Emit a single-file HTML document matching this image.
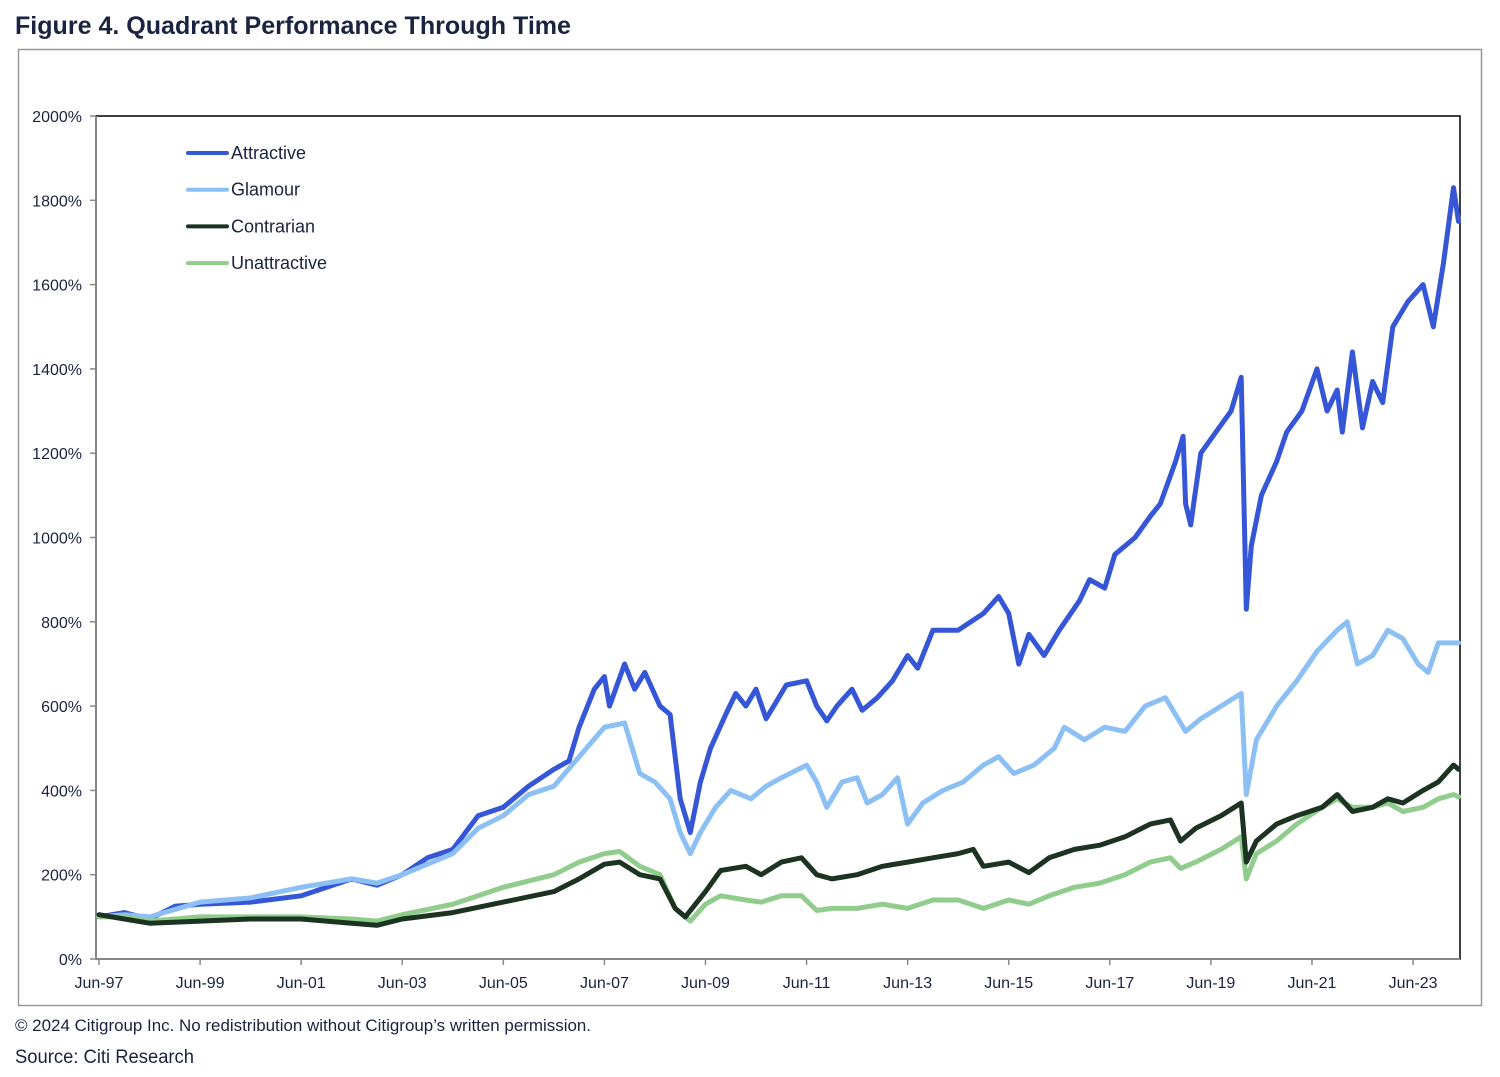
<!DOCTYPE html>
<html><head><meta charset="utf-8"><style>
body{margin:0;background:#fff;width:1500px;height:1072px;overflow:hidden;font-family:"Liberation Sans",sans-serif}
</style></head><body>
<svg id="chart" width="1500" height="1072" xmlns="http://www.w3.org/2000/svg" font-family="Liberation Sans, sans-serif">
<text x="15" y="34" font-size="25" font-weight="bold" fill="#1a2340" textLength="556" lengthAdjust="spacingAndGlyphs">Figure 4. Quadrant Performance Through Time</text>
<rect x="18.5" y="49.5" width="1463" height="956" fill="none" stroke="#999" stroke-width="1.5"/>
<g id="axes"></g>
<g id="series"></g>
<g id="legend"></g>
<text x="15" y="1031" font-size="17" fill="#1a2340" textLength="576" lengthAdjust="spacingAndGlyphs">© 2024 Citigroup Inc. No redistribution without Citigroup’s written permission.</text>
<text x="15" y="1063" font-size="19" fill="#1a2340" textLength="179" lengthAdjust="spacingAndGlyphs">Source: Citi Research</text>
</svg>
<script>
const yTicks=[0,200,400,600,800,1000,1200,1400,1600,1800,2000];
const xTickLabels=["Jun-97","Jun-99","Jun-01","Jun-03","Jun-05","Jun-07","Jun-09","Jun-11","Jun-13","Jun-15","Jun-17","Jun-19","Jun-21","Jun-23"];
const xTickYears=[1997.5,1999.5,2001.5,2003.5,2005.5,2007.5,2009.5,2011.5,2013.5,2015.5,2017.5,2019.5,2021.5,2023.5];
const seriesNames=["Attractive","Glamour","Contrarian","Unattractive"];
const attractiveT=[1997.5,1998.0,1998.5,1999.0,1999.5,2000.5,2001.5,2002.5,2003.0,2003.5,2004.0,2004.5,2005.0,2005.5,2006.0,2006.5,2006.8,2007.0,2007.3,2007.5,2007.6,2007.9,2008.1,2008.3,2008.6,2008.8,2009.0,2009.1,2009.2,2009.4,2009.6,2009.9,2010.1,2010.3,2010.5,2010.7,2010.9,2011.1,2011.5,2011.7,2011.9,2012.1,2012.4,2012.6,2012.9,2013.2,2013.5,2013.7,2014.0,2014.5,2015.0,2015.3,2015.5,2015.7,2015.9,2016.2,2016.5,2016.9,2017.1,2017.4,2017.6,2018.0,2018.3,2018.5,2018.8,2018.95,2019.0,2019.1,2019.3,2019.6,2019.9,2020.1,2020.2,2020.3,2020.5,2020.8,2021.0,2021.3,2021.6,2021.8,2022.0,2022.1,2022.3,2022.5,2022.7,2022.9,2023.1,2023.4,2023.7,2023.9,2024.1,2024.3,2024.4];
const attractiveV=[100,110,95,125,130,135,150,190,175,200,240,260,340,360,410,450,470,550,640,670,600,700,640,680,600,580,380,340,300,420,500,580,630,600,640,570,610,650,660,600,565,600,640,590,620,660,720,690,780,780,820,860,820,700,770,720,780,850,900,880,960,1000,1050,1080,1180,1240,1080,1030,1200,1250,1300,1380,830,980,1100,1180,1250,1300,1400,1300,1350,1250,1440,1260,1370,1320,1500,1560,1600,1500,1650,1830,1750];
const glamourT=[1997.5,1998.0,1998.5,1999.5,2000.5,2001.5,2002.5,2003.0,2003.5,2004.5,2005.0,2005.5,2006.0,2006.5,2007.0,2007.5,2007.9,2008.2,2008.5,2008.8,2009.0,2009.2,2009.4,2009.7,2010.0,2010.4,2010.7,2011.0,2011.5,2011.7,2011.9,2012.2,2012.5,2012.7,2013.0,2013.3,2013.5,2013.8,2014.2,2014.6,2015.0,2015.3,2015.6,2016.0,2016.4,2016.6,2017.0,2017.4,2017.8,2018.2,2018.6,2018.9,2019.0,2019.3,2019.7,2020.1,2020.2,2020.4,2020.8,2021.2,2021.6,2022.0,2022.2,2022.4,2022.7,2023.0,2023.3,2023.6,2023.8,2024.0,2024.4];
const glamourV=[100,105,100,135,145,170,190,180,200,250,310,340,390,410,480,550,560,440,420,380,300,250,300,360,400,380,410,430,460,420,360,420,430,370,390,430,320,370,400,420,460,480,440,460,500,550,520,550,540,600,620,560,540,570,600,630,390,520,600,660,730,780,800,700,720,780,760,700,680,750,750];
const contrarianT=[1997.5,1998.0,1998.5,1999.5,2000.5,2001.5,2002.5,2003.0,2003.5,2004.5,2005.5,2006.5,2007.0,2007.5,2007.8,2008.2,2008.6,2008.9,2009.1,2009.5,2009.8,2010.3,2010.6,2011.0,2011.4,2011.7,2012.0,2012.5,2013.0,2013.5,2014.0,2014.5,2014.8,2015.0,2015.5,2015.9,2016.3,2016.8,2017.3,2017.8,2018.3,2018.7,2018.9,2019.2,2019.7,2020.1,2020.2,2020.4,2020.8,2021.2,2021.7,2022.0,2022.3,2022.7,2023.0,2023.3,2023.7,2024.0,2024.3,2024.4];
const contrarianV=[105,95,85,90,95,95,85,80,95,110,135,160,190,225,230,200,190,120,100,160,210,220,200,230,240,200,190,200,220,230,240,250,260,220,230,205,240,260,270,290,320,330,280,310,340,370,230,280,320,340,360,390,350,360,380,370,400,420,460,450];
const unattractiveT=[1997.5,1998.0,1998.5,1999.5,2000.5,2001.5,2002.5,2003.0,2003.5,2004.5,2005.5,2006.5,2007.0,2007.5,2007.8,2008.2,2008.6,2008.9,2009.2,2009.5,2009.8,2010.3,2010.6,2011.0,2011.4,2011.7,2012.0,2012.5,2013.0,2013.5,2014.0,2014.5,2015.0,2015.5,2015.9,2016.3,2016.8,2017.3,2017.8,2018.3,2018.7,2018.9,2019.2,2019.7,2020.1,2020.2,2020.4,2020.8,2021.2,2021.7,2022.0,2022.3,2022.7,2023.0,2023.3,2023.7,2024.0,2024.3,2024.4];
const unattractiveV=[100,100,90,100,100,100,95,90,105,130,170,200,230,250,255,220,200,120,90,130,150,140,135,150,150,115,120,120,130,120,140,140,120,140,130,150,170,180,200,230,240,215,230,260,290,190,250,280,320,360,380,360,360,370,350,360,380,390,385];

const NS="http://www.w3.org/2000/svg";
const L=96,R=1460,T=116,B=959;
const xs=t=>99+(t-1997.5)*50.54;
const ys=v=>B-(v/2000)*(B-T);
function mk(tag,attrs,parent){const e=document.createElementNS(NS,tag);for(const k in attrs)e.setAttribute(k,attrs[k]);parent.appendChild(e);return e;}
const axes=document.getElementById('axes');
const pb=mk('rect',{x:L,y:T,width:R-L,height:B-T,fill:'none',stroke:'#000','stroke-width':1.5},axes);


const ya=mk('line',{x1:L,y1:T,x2:L,y2:B,stroke:'#888','stroke-width':1.5},axes);


const xa=mk('line',{x1:L,y1:B,x2:R,y2:B,stroke:'#888','stroke-width':1.5},axes);


yTicks.forEach(v=>{
  const y=ys(v);
  mk('line',{x1:L-6,y1:y,x2:L,y2:y,stroke:'#888','stroke-width':1.5},axes);
  const t=mk('text',{x:82,y:y+6,'text-anchor':'end','font-size':16,fill:'#1a2340'},axes);
  t.textContent=v+'%';
  
  
});
xTickYears.forEach((yr,i)=>{
  const x=xs(yr);
  mk('line',{x1:x,y1:B,x2:x,y2:B+6,stroke:'#888','stroke-width':1.5},axes);
  const t=mk('text',{x:x,y:B+29,'text-anchor':'middle','font-size':16,fill:'#1a2340'},axes);
  t.textContent=xTickLabels[i];
  
  
});
const sg=document.getElementById('series');
const colors=['#3556d6','#8cc0f4','#1c3322','#90cd8c'];
const data=[[attractiveT,attractiveV],[glamourT,glamourV],[unattractiveT,unattractiveV],[contrarianT,contrarianV]];
const order=[0,1,3,2];
order.forEach((si,k)=>{
  const [tt,vv]=data[k];
  const d=tt.map((t,i)=>(i?'L':'M')+xs(t).toFixed(1)+','+ys(vv[i]).toFixed(1)).join(' ');
  const p=mk('path',{d:d,fill:'none',stroke:colors[si],'stroke-width':5,'stroke-linejoin':'round','stroke-linecap':'round'},sg);
  
  
});
const lg=document.getElementById('legend');
seriesNames.forEach((n,i)=>{
  const y=153+i*36.7;
  const ln=mk('line',{x1:188,y1:y,x2:227,y2:y,stroke:colors[i],'stroke-width':4,'stroke-linecap':'round'},lg);
  
  
  const t=mk('text',{x:231,y:y+6,'font-size':18,fill:'#1a2340'},lg);
  t.textContent=n;
  
  
});
</script>
</body></html>
